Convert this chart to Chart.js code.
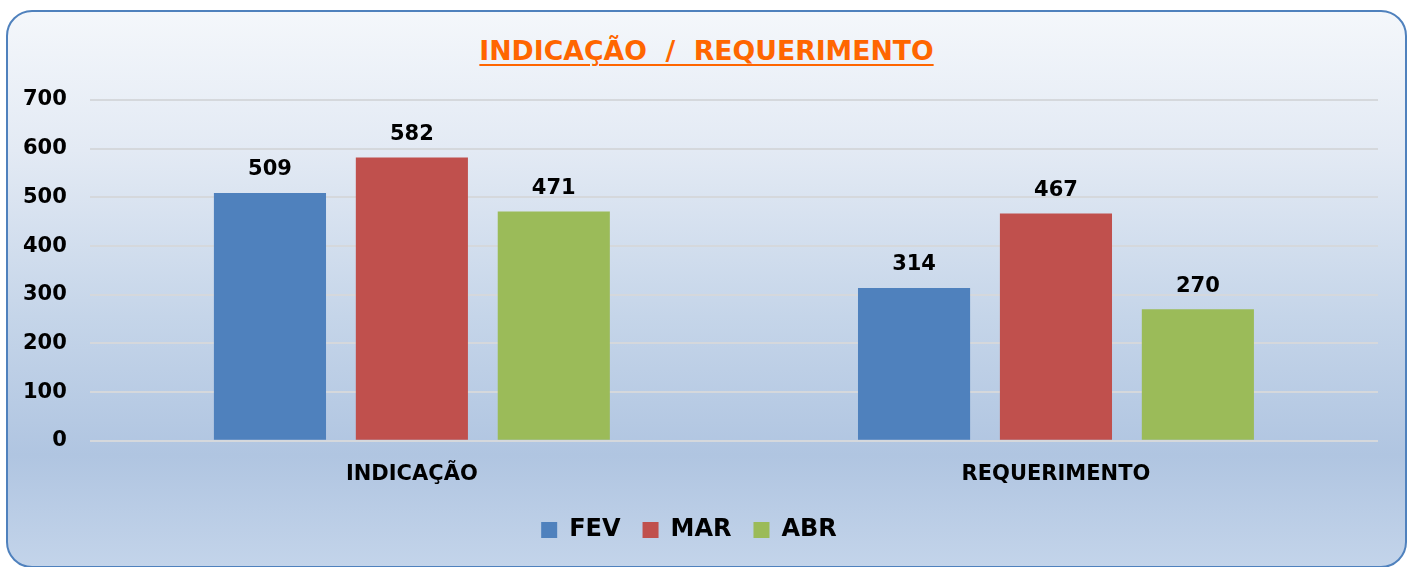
<!DOCTYPE html>
<html>
<head>
<meta charset="utf-8">
<script src="https://cdn.jsdelivr.net/npm/chart.js@4.4.1/dist/chart.umd.min.js"></script>
<style>
  html, body { margin: 0; padding: 0; background: #fff; }
  body { width: 1413px; height: 567px; position: relative; overflow: hidden; }
  #box {
    position: absolute; left: 6px; top: 10px; width: 1397px; height: 554px;
    border: 2px solid #4f81bd; border-radius: 26px;
    background: linear-gradient(to bottom, #f4f7fb 0%, #e3eaf4 25%, #c5d5e9 55%, #b0c5e1 80%, #c3d4ea 100%);
  }
  #title {
    position: absolute; left: 0; top: 35px; width: 1413px; text-align: center;
    font: bold 26.7px "DejaVu Sans", sans-serif; color: #ff6600;
    text-decoration: underline; text-decoration-thickness: 2px; text-underline-offset: 4px; white-space: pre;
  }
  #wrap { position: absolute; left: 0; top: 0; width: 1413px; height: 567px; }
</style>
</head>
<body>
<div id="box"></div>
<div id="title">INDICAÇÃO  /  REQUERIMENTO</div>
<div id="wrap"><canvas id="myChart"></canvas></div>
<script>
// data
const categories = ["INDICAÇÃO", "REQUERIMENTO"];
const months = ["FEV", "MAR", "ABR"];
const fevValues = [509, 314];
const marValues = [582, 467];
const abrValues = [471, 270];
const yTicks = [0, 100, 200, 300, 400, 500, 600, 700];

const colors = ["#4f81bd", "#c0504d", "#9bbb59"];
const fontFamily = '"DejaVu Sans", sans-serif';

// value labels above bars
const valueLabels = {
  id: "valueLabels",
  afterDatasetsDraw(chart) {
    const ctx = chart.ctx;
    ctx.save();
    ctx.font = "bold 21px " + fontFamily;
    ctx.fillStyle = "#000";
    ctx.textAlign = "center";
    ctx.textBaseline = "middle";
    chart.data.datasets.forEach((dataset, i) => {
      chart.getDatasetMeta(i).data.forEach((bar, j) => {
        ctx.fillText(dataset.data[j], bar.x, bar.y - 23);
      });
    });
    ctx.restore();
  }
};

const data = {
  labels: categories,
  datasets: [
    { label: months[0], data: fevValues, backgroundColor: colors[0] },
    { label: months[1], data: marValues, backgroundColor: colors[1] },
    { label: months[2], data: abrValues, backgroundColor: colors[2] },
  ],
};

const config = {
  type: "bar",
  data,
  options: {
    responsive: true,
    maintainAspectRatio: false,
    animation: false,
    layout: { padding: { top: 100, left: 0, right: 35, bottom: 15 } },
    datasets: {
      bar: { categoryPercentage: 0.661, barPercentage: 0.79 }
    },
    scales: {
      y: {
        min: 0,
        max: 700,
        afterBuildTicks: (axis) => { axis.ticks = yTicks.map(v => ({ value: v })); },
        grid: { color: "#d5d8dc", lineWidth: 2, drawTicks: false },
        border: { display: false },
        ticks: { color: "#000", padding: 23, font: { family: fontFamily, size: 21, weight: "bold" } },
      },
      x: {
        afterFit: (axis) => { axis.height -= 12; },
        grid: { display: false, drawTicks: false },
        border: { display: false },
        ticks: { color: "#000", padding: 21, font: { family: fontFamily, size: 21, weight: "bold" } },
      },
    },
    plugins: {
      tooltip: { enabled: false },
      legend: {
        position: "bottom",
        labels: {
          color: "#000",
          boxWidth: 16,
          boxHeight: 16,
          padding: 22,
          font: { family: fontFamily, size: 24, weight: "bold" },
        },
      },
    },
  },
  plugins: [valueLabels],
};

const myChart = new Chart(document.getElementById("myChart"), config);
</script>
</body>
</html>
